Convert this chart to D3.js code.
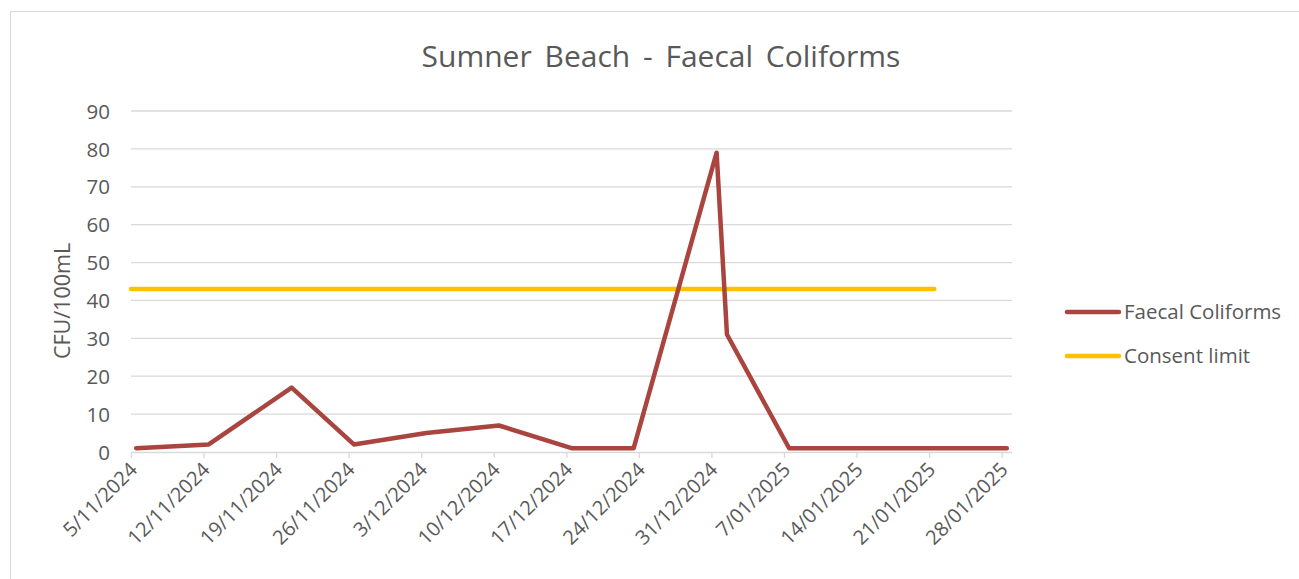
<!DOCTYPE html>
<html>
<head>
<meta charset="utf-8">
<script src="https://cdn.jsdelivr.net/npm/d3@7"></script>
<style>
  html, body { margin: 0; padding: 0; background: #fff; }
  svg { display: block; }
  text { font-family: "Open Sans", "Noto Sans", sans-serif; fill: #595959; }
</style>
</head>
<body>
<svg id="chart" width="1299" height="579"></svg>
<script>
// ---- data ----
const sampleDates = ["2024-11-05","2024-11-12","2024-11-20","2024-11-26","2024-12-03","2024-12-10","2024-12-17","2024-12-23","2024-12-31","2025-01-01","2025-01-07","2025-01-14","2025-01-21","2025-01-28"];
const faecalValues = [1, 2, 17, 2, 5, 7, 1, 1, 79, 31, 1, 1, 1, 1];
const consentDates = ["2024-11-05","2025-01-21"];
const consentValues = [43, 43];
const tickDates = ["2024-11-05","2024-11-12","2024-11-19","2024-11-26","2024-12-03","2024-12-10","2024-12-17","2024-12-24","2024-12-31","2025-01-07","2025-01-14","2025-01-21","2025-01-28"];
const yTicks = [0, 10, 20, 30, 40, 50, 60, 70, 80, 90];
const seriesNames = ["Faecal Coliforms", "Consent limit"];
const seriesColors = ["#a9443f", "#ffc000"];
const title = "Sumner Beach - Faecal Coliforms";
const yLabel = "CFU/100mL";

// ---- setup ----
const parse = d3.timeParse("%Y-%m-%d");
const noon = s => { const d = parse(s); d.setHours(12); return d; };
const svg = d3.select("#chart");
const margin = { left: 131, right: 1012, top: 111, bottom: 452 };

const x = d3.scaleTime()
  .domain([parse("2024-11-05"), parse("2025-01-29")])
  .range([margin.left, margin.right]);
const y = d3.scaleLinear().domain([0, 90]).range([margin.bottom, margin.top]);

// outer border
svg.append("rect").attr("x", 10.5).attr("y", 11.5).attr("width", 1300).attr("height", 600)
  .attr("fill", "none").attr("stroke", "#d9d9d9").attr("stroke-width", 1);

// title
svg.append("text").attr("x", 661).attr("y", 67).attr("text-anchor", "middle")
  .attr("font-size", 30).attr("word-spacing", 5).text(title);

// gridlines
svg.append("g").selectAll("line").data(yTicks.filter(d => d > 0)).join("line")
  .attr("x1", margin.left).attr("x2", margin.right)
  .attr("y1", d => y(d)).attr("y2", d => y(d))
  .attr("stroke", "#d9d9d9").attr("stroke-width", 1.3);

// y axis labels
const yAxis = d3.axisLeft(y).tickValues(yTicks).tickSize(0).tickPadding(0);
const gy = svg.append("g").attr("transform", `translate(${margin.left - 21},0)`).call(yAxis);
gy.select(".domain").remove();
gy.selectAll("text").attr("font-size", 20.5).style("font-family", '"Open Sans", sans-serif').attr("fill", "#595959").attr("dy", "0.35em");

// x axis
const xAxis = d3.axisBottom(x).tickValues(tickDates.map(parse)).tickSize(6)
  .tickFormat(d3.timeFormat("%-d/%m/%Y"));
const gx = svg.append("g").attr("transform", `translate(0,${margin.bottom})`).call(xAxis);
gx.select(".domain").attr("stroke", "#d9d9d9").attr("stroke-width", 1.3)
  .attr("d", `M${margin.left},0.5H${margin.right}`);
gx.selectAll(".tick line").attr("stroke", "#d9d9d9").attr("stroke-width", 1.3);
gx.selectAll(".tick text")
  .attr("font-size", 20).style("font-family", '"Open Sans", sans-serif').attr("fill", "#595959")
  .attr("text-anchor", "end").attr("dy", 0).attr("y", 0)
  .attr("transform", "translate(7,19) rotate(-45)");

// y label
svg.append("text").attr("transform", "translate(70,301) rotate(-90)")
  .attr("text-anchor", "middle").attr("font-size", 21.5).text(yLabel);

// lines
const line = d3.line().x(d => x(d[0])).y(d => y(d[1]));
const consentData = consentDates.map((d, i) => [i === 0 ? parse(d) : noon(d), consentValues[i]]);
svg.append("path").datum(consentData).attr("d", line)
  .attr("fill", "none").attr("stroke", seriesColors[1]).attr("stroke-width", 4.5)
  .attr("stroke-linecap", "round");
const faecalData = sampleDates.map((d, i) => [noon(d), faecalValues[i]]);
svg.append("path").datum(faecalData).attr("d", line)
  .attr("fill", "none").attr("stroke", seriesColors[0]).attr("stroke-width", 4.5)
  .attr("stroke-linecap", "round").attr("stroke-linejoin", "round");

// legend
const lg = svg.append("g");
seriesNames.forEach((name, i) => {
  const ly = 312 + i * 44;
  lg.append("line").attr("x1", 1067).attr("x2", 1119).attr("y1", ly).attr("y2", ly)
    .attr("stroke", seriesColors[i]).attr("stroke-width", 4.5).attr("stroke-linecap", "round");
  lg.append("text").attr("x", 1124).attr("y", ly).attr("dy", "0.35em")
    .attr("font-size", 20.5).text(name);
});
</script>
</body>
</html>
